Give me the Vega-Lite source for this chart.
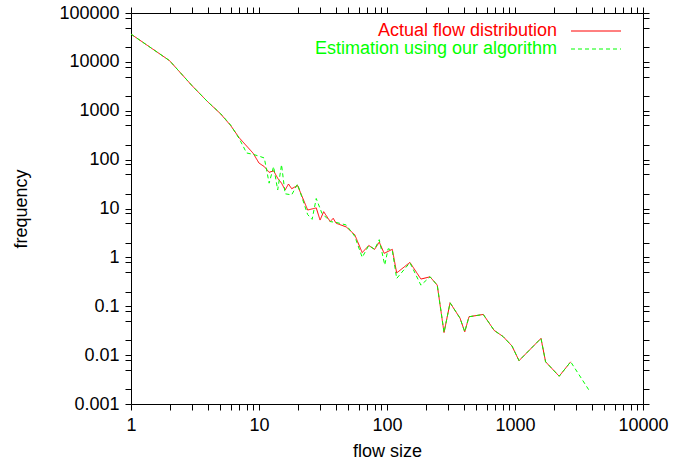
{
  "$schema": "https://vega.github.io/schema/vega-lite/v6.json",
  "width": 512,
  "height": 391,
  "autosize": {"type": "none"},
  "padding": {"left": 131, "top": 13, "right": 32, "bottom": 59},
  "background": "white",
  "config": {
    "font": "Liberation Sans",
    "view": {"stroke": "black", "strokeWidth": 1},
    "axis": {
      "domain": false,
      "grid": false,
      "ticks": true,
      "tickColor": "black",
      "tickWidth": 1,
      "tickSize": 6,
      "tickOpacity": 1,
      "labelColor": "black",
      "labelFontSize": 18,
      "labelOverlap": false,
      "labelFlush": false,
      "labelBound": false,
      "titleColor": "black",
      "titleFontSize": 18,
      "titleFontWeight": "normal",
      "format": "~g",
      "labelExpr": "abs(log(datum.value)/LN10 - round(log(datum.value)/LN10)) < 0.001 ? datum.label : ''"
    }
  },
  "data": {
    "values": [
      {"size": 1, "freq": 37000, "series": "Actual flow distribution"},
      {"size": 2, "freq": 10600, "series": "Actual flow distribution"},
      {"size": 3, "freq": 3250, "series": "Actual flow distribution"},
      {"size": 4, "freq": 1500, "series": "Actual flow distribution"},
      {"size": 5, "freq": 870, "series": "Actual flow distribution"},
      {"size": 6, "freq": 500, "series": "Actual flow distribution"},
      {"size": 7, "freq": 280, "series": "Actual flow distribution"},
      {"size": 8, "freq": 190, "series": "Actual flow distribution"},
      {"size": 9, "freq": 135, "series": "Actual flow distribution"},
      {"size": 10, "freq": 85, "series": "Actual flow distribution"},
      {"size": 11, "freq": 72, "series": "Actual flow distribution"},
      {"size": 12, "freq": 55, "series": "Actual flow distribution"},
      {"size": 13, "freq": 59, "series": "Actual flow distribution"},
      {"size": 14, "freq": 41.5, "series": "Actual flow distribution"},
      {"size": 15, "freq": 33, "series": "Actual flow distribution"},
      {"size": 16, "freq": 24, "series": "Actual flow distribution"},
      {"size": 17, "freq": 31.7, "series": "Actual flow distribution"},
      {"size": 18, "freq": 25.4, "series": "Actual flow distribution"},
      {"size": 20, "freq": 29.6, "series": "Actual flow distribution"},
      {"size": 24, "freq": 9.3, "series": "Actual flow distribution"},
      {"size": 28, "freq": 10.3, "series": "Actual flow distribution"},
      {"size": 30, "freq": 5.8, "series": "Actual flow distribution"},
      {"size": 32, "freq": 8.6, "series": "Actual flow distribution"},
      {"size": 36, "freq": 5.4, "series": "Actual flow distribution"},
      {"size": 38, "freq": 6.3, "series": "Actual flow distribution"},
      {"size": 40, "freq": 5.0, "series": "Actual flow distribution"},
      {"size": 48, "freq": 4.2, "series": "Actual flow distribution"},
      {"size": 56, "freq": 2.9, "series": "Actual flow distribution"},
      {"size": 64, "freq": 1.25, "series": "Actual flow distribution"},
      {"size": 72, "freq": 1.75, "series": "Actual flow distribution"},
      {"size": 80, "freq": 1.46, "series": "Actual flow distribution"},
      {"size": 87, "freq": 2.05, "series": "Actual flow distribution"},
      {"size": 95, "freq": 1.21, "series": "Actual flow distribution"},
      {"size": 110, "freq": 1.46, "series": "Actual flow distribution"},
      {"size": 119, "freq": 0.48, "series": "Actual flow distribution"},
      {"size": 151, "freq": 0.79, "series": "Actual flow distribution"},
      {"size": 184, "freq": 0.36, "series": "Actual flow distribution"},
      {"size": 217, "freq": 0.40, "series": "Actual flow distribution"},
      {"size": 247, "freq": 0.27, "series": "Actual flow distribution"},
      {"size": 279, "freq": 0.029, "series": "Actual flow distribution"},
      {"size": 311, "freq": 0.118, "series": "Actual flow distribution"},
      {"size": 372, "freq": 0.057, "series": "Actual flow distribution"},
      {"size": 405, "freq": 0.030, "series": "Actual flow distribution"},
      {"size": 437, "freq": 0.061, "series": "Actual flow distribution"},
      {"size": 565, "freq": 0.068, "series": "Actual flow distribution"},
      {"size": 688, "freq": 0.032, "series": "Actual flow distribution"},
      {"size": 807, "freq": 0.024, "series": "Actual flow distribution"},
      {"size": 947, "freq": 0.0154, "series": "Actual flow distribution"},
      {"size": 1075, "freq": 0.0077, "series": "Actual flow distribution"},
      {"size": 1596, "freq": 0.022, "series": "Actual flow distribution"},
      {"size": 1734, "freq": 0.0073, "series": "Actual flow distribution"},
      {"size": 2214, "freq": 0.0037, "series": "Actual flow distribution"},
      {"size": 2722, "freq": 0.0073, "series": "Actual flow distribution"},
      {"size": 1, "freq": 37000, "series": "Estimation using our algorithm"},
      {"size": 2, "freq": 10600, "series": "Estimation using our algorithm"},
      {"size": 3, "freq": 3250, "series": "Estimation using our algorithm"},
      {"size": 4, "freq": 1500, "series": "Estimation using our algorithm"},
      {"size": 5, "freq": 880, "series": "Estimation using our algorithm"},
      {"size": 6, "freq": 510, "series": "Estimation using our algorithm"},
      {"size": 7, "freq": 270, "series": "Estimation using our algorithm"},
      {"size": 8, "freq": 137, "series": "Estimation using our algorithm"},
      {"size": 9, "freq": 128, "series": "Estimation using our algorithm"},
      {"size": 10, "freq": 118, "series": "Estimation using our algorithm"},
      {"size": 11, "freq": 108, "series": "Estimation using our algorithm"},
      {"size": 12, "freq": 33, "series": "Estimation using our algorithm"},
      {"size": 13, "freq": 72, "series": "Estimation using our algorithm"},
      {"size": 14, "freq": 24, "series": "Estimation using our algorithm"},
      {"size": 15, "freq": 79, "series": "Estimation using our algorithm"},
      {"size": 16, "freq": 20, "series": "Estimation using our algorithm"},
      {"size": 18, "freq": 19, "series": "Estimation using our algorithm"},
      {"size": 20, "freq": 31.7, "series": "Estimation using our algorithm"},
      {"size": 24, "freq": 7.5, "series": "Estimation using our algorithm"},
      {"size": 26, "freq": 6.0, "series": "Estimation using our algorithm"},
      {"size": 28, "freq": 16, "series": "Estimation using our algorithm"},
      {"size": 31, "freq": 8.0, "series": "Estimation using our algorithm"},
      {"size": 36, "freq": 5.4, "series": "Estimation using our algorithm"},
      {"size": 40, "freq": 5.2, "series": "Estimation using our algorithm"},
      {"size": 48, "freq": 4.6, "series": "Estimation using our algorithm"},
      {"size": 56, "freq": 2.7, "series": "Estimation using our algorithm"},
      {"size": 64, "freq": 1.0, "series": "Estimation using our algorithm"},
      {"size": 72, "freq": 1.75, "series": "Estimation using our algorithm"},
      {"size": 80, "freq": 1.46, "series": "Estimation using our algorithm"},
      {"size": 87, "freq": 2.3, "series": "Estimation using our algorithm"},
      {"size": 96, "freq": 0.70, "series": "Estimation using our algorithm"},
      {"size": 102, "freq": 1.5, "series": "Estimation using our algorithm"},
      {"size": 110, "freq": 1.4, "series": "Estimation using our algorithm"},
      {"size": 119, "freq": 0.37, "series": "Estimation using our algorithm"},
      {"size": 151, "freq": 0.78, "series": "Estimation using our algorithm"},
      {"size": 184, "freq": 0.27, "series": "Estimation using our algorithm"},
      {"size": 217, "freq": 0.40, "series": "Estimation using our algorithm"},
      {"size": 247, "freq": 0.27, "series": "Estimation using our algorithm"},
      {"size": 279, "freq": 0.029, "series": "Estimation using our algorithm"},
      {"size": 311, "freq": 0.118, "series": "Estimation using our algorithm"},
      {"size": 372, "freq": 0.057, "series": "Estimation using our algorithm"},
      {"size": 405, "freq": 0.030, "series": "Estimation using our algorithm"},
      {"size": 437, "freq": 0.061, "series": "Estimation using our algorithm"},
      {"size": 565, "freq": 0.068, "series": "Estimation using our algorithm"},
      {"size": 688, "freq": 0.032, "series": "Estimation using our algorithm"},
      {"size": 807, "freq": 0.024, "series": "Estimation using our algorithm"},
      {"size": 947, "freq": 0.0154, "series": "Estimation using our algorithm"},
      {"size": 1075, "freq": 0.0077, "series": "Estimation using our algorithm"},
      {"size": 1596, "freq": 0.022, "series": "Estimation using our algorithm"},
      {"size": 1734, "freq": 0.0073, "series": "Estimation using our algorithm"},
      {"size": 2214, "freq": 0.0037, "series": "Estimation using our algorithm"},
      {"size": 2722, "freq": 0.0073, "series": "Estimation using our algorithm"},
      {"size": 3795, "freq": 0.0019, "series": "Estimation using our algorithm"}
    ]
  },
  "layer": [
    {
      "mark": {"type": "line", "strokeWidth": 1, "clip": true},
      "encoding": {
        "x": {
          "field": "size",
          "type": "quantitative",
          "scale": {"type": "log", "domain": [1, 10000]},
          "axis": {
            "orient": "bottom",
            "title": "flow size",
            "titlePadding": 8,
            "labelPadding": 6,
            "values": [1,2,3,4,5,6,7,8,9,10,20,30,40,50,60,70,80,90,100,200,300,400,500,600,700,800,900,1000,2000,3000,4000,5000,6000,7000,8000,9000,10000],
            "encode": {"ticks": {"update": {"y2": {"signal": "abs(log(datum.value)/LN10 - round(log(datum.value)/LN10)) < 0.001 ? -6 : -3"}}}}
          }
        },
        "y": {
          "field": "freq",
          "type": "quantitative",
          "scale": {"type": "log", "domain": [0.001, 100000]},
          "axis": {
            "orient": "left",
            "title": "frequency",
            "titlePadding": 28,
            "labelPadding": 6,
            "values": [0.001,0.002,0.005,0.008,0.01,0.02,0.05,0.08,0.1,0.2,0.5,0.8,1,2,5,8,10,20,50,80,100,200,500,800,1000,2000,5000,8000,10000,20000,50000,80000,100000],
            "encode": {"ticks": {"update": {"x2": {"signal": "abs(log(datum.value)/LN10 - round(log(datum.value)/LN10)) < 0.001 ? 6 : 3"}}}}
          }
        },
        "color": {
          "field": "series",
          "type": "nominal",
          "sort": null,
          "scale": {"domain": ["Actual flow distribution", "Estimation using our algorithm"], "range": ["#ff0000", "#00ff00"]},
          "legend": {
            "title": null,
            "orient": "none",
            "legendX": 456,
            "legendY": 9,
            "padding": 0,
            "rowPadding": -2,
            "symbolType": "M-5,0H5",
            "symbolSize": 100,
            "symbolStrokeWidth": 1,
            "labelFontSize": 18,
            "labelAlign": "right",
            "labelOffset": -48,
            "labelLimit": 400,
            "encode": {"labels": {"update": {"fill": {"signal": "datum.value === 'Actual flow distribution' ? '#ff0000' : '#00ff00'"}}}}
          }
        },
        "strokeDash": {
          "field": "series",
          "type": "nominal",
          "sort": null,
          "scale": {"domain": ["Actual flow distribution", "Estimation using our algorithm"], "range": [[1, 0], [4, 3]]}
        }
      }
    },
    {
      "mark": {"type": "line", "opacity": 0},
      "encoding": {
        "x": {
          "field": "size",
          "type": "quantitative",
          "scale": {"type": "log", "domain": [1, 10000]},
          "axis": {
            "orient": "top",
            "title": null,
            "labels": false,
            "values": [1,2,3,4,5,6,7,8,9,10,20,30,40,50,60,70,80,90,100,200,300,400,500,600,700,800,900,1000,2000,3000,4000,5000,6000,7000,8000,9000,10000],
            "encode": {"ticks": {"update": {"y2": {"signal": "abs(log(datum.value)/LN10 - round(log(datum.value)/LN10)) < 0.001 ? 6 : 3"}}}}
          }
        },
        "y": {
          "field": "freq",
          "type": "quantitative",
          "scale": {"type": "log", "domain": [0.001, 100000]},
          "axis": {
            "orient": "right",
            "title": null,
            "labels": false,
            "values": [0.001,0.002,0.005,0.008,0.01,0.02,0.05,0.08,0.1,0.2,0.5,0.8,1,2,5,8,10,20,50,80,100,200,500,800,1000,2000,5000,8000,10000,20000,50000,80000,100000],
            "encode": {"ticks": {"update": {"x2": {"signal": "abs(log(datum.value)/LN10 - round(log(datum.value)/LN10)) < 0.001 ? -6 : -3"}}}}
          }
        }
      }
    }
  ],
  "resolve": {"axis": {"x": "independent", "y": "independent"}}
}
